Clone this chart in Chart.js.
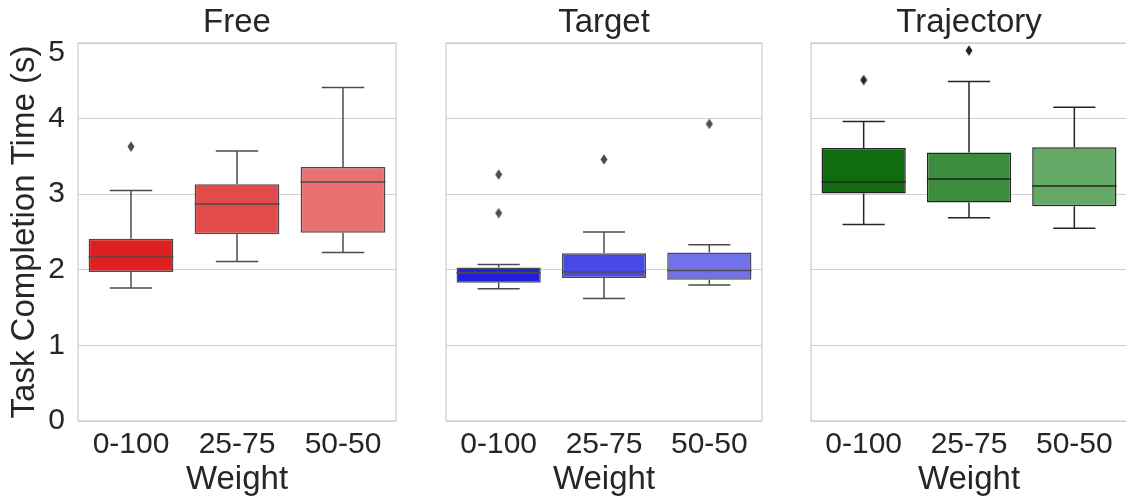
<!DOCTYPE html>
<html>
<head>
<meta charset="utf-8">
<script src="https://cdn.jsdelivr.net/npm/chart.js@4"></script>
<style>
  html, body { margin: 0; padding: 0; background: #fff; overflow: hidden; }
  body { width: 1126px; height: 498px; position: relative; }
  .panel { position: absolute; top: 0; height: 498px; }
</style>
</head>
<body>
<div class="panel" style="left:0px;width:402px"><canvas id="free" width="402" height="498"></canvas></div>
<div class="panel" style="left:440px;width:328px"><canvas id="target" width="328" height="498"></canvas></div>
<div class="panel" style="left:805px;width:328px"><canvas id="trajectory" width="328" height="498"></canvas></div>
<script>
// Dados
const weights = ['0-100', '25-75', '50-50'];
const yTicks = [0, 1, 2, 3, 4, 5];

// Free
const freeLow = [1.76, 2.11, 2.23];
const freeQ1 = [1.97, 2.47, 2.49];
const freeMedian = [2.17, 2.87, 3.16];
const freeQ3 = [2.41, 3.13, 3.36];
const freeHigh = [3.05, 3.57, 4.41];
const freeOutliers = [[3.63], [], []];

// Target
const targetLow = [1.75, 1.62, 1.80];
const targetQ1 = [1.83, 1.89, 1.87];
const targetMedian = [1.96, 1.97, 1.99];
const targetQ3 = [2.03, 2.22, 2.23];
const targetHigh = [2.07, 2.50, 2.33];
const targetOutliers = [[3.26, 2.75], [3.46], [3.93]];

// Trajectory
const trajLow = [2.60, 2.69, 2.55];
const trajQ1 = [3.01, 2.89, 2.84];
const trajMedian = [3.16, 3.20, 3.11];
const trajQ3 = [3.61, 3.55, 3.62];
const trajHigh = [3.96, 4.49, 4.15];
const trajOutliers = [[4.51], [4.90], []];

const FONT = "'Liberation Sans', Arial, sans-serif";
const TEXT = '#262626';
const GRID = '#d0d0d0';

// Losango fino (marcador 'd' do seaborn)
function diamond(color) {
  const c = document.createElement('canvas');
  c.width = 8; c.height = 11;
  const g = c.getContext('2d');
  g.fillStyle = color;
  g.beginPath();
  g.moveTo(4, 0.3); g.lineTo(7.5, 5.5); g.lineTo(4, 10.7); g.lineTo(0.5, 5.5);
  g.closePath();
  g.fill();
  return c;
}

// Bigodes, tampas e mediana desenhados pelas escalas do gráfico
const boxPlugin = {
  id: 'boxParts',
  beforeDatasetsDraw(chart) {
    const { ctx, chartArea: a } = chart;
    ctx.save();
    ctx.strokeStyle = '#cccccc';
    ctx.lineWidth = 1.25;
    ctx.strokeRect(a.left, a.top, a.right - a.left, a.bottom - a.top);
    ctx.restore();
  },
  afterDatasetsDraw(chart) {
    const box = chart.options.plugins.boxParts;
    const { ctx } = chart;
    const x = chart.scales.x, y = chart.scales.y;
    const bars = chart.getDatasetMeta(0).data;
    ctx.save();
    ctx.strokeStyle = box.line;
    ctx.lineWidth = 1.5;
    weights.forEach((w, i) => {
      const cx = x.getPixelForValue(i);
      const half = bars[i].width / 2;
      const cap = half / 2;
      const seg = (x1, y1, x2, y2) => {
        ctx.beginPath(); ctx.moveTo(x1, y1); ctx.lineTo(x2, y2); ctx.stroke();
      };
      seg(cx, y.getPixelForValue(box.q3[i]), cx, y.getPixelForValue(box.high[i]));
      seg(cx, y.getPixelForValue(box.q1[i]), cx, y.getPixelForValue(box.low[i]));
      seg(cx - cap, y.getPixelForValue(box.high[i]), cx + cap, y.getPixelForValue(box.high[i]));
      seg(cx - cap, y.getPixelForValue(box.low[i]), cx + cap, y.getPixelForValue(box.low[i]));
      seg(cx - half, y.getPixelForValue(box.median[i]), cx + half, y.getPixelForValue(box.median[i]));
    });
    ctx.restore();
  }
};

function makePanel(id, title, colors, line, low, q1, median, q3, high, outliers, first) {
  const points = [];
  outliers.forEach((vals, i) => vals.forEach(v => points.push({ x: weights[i], y: v })));

  return new Chart(document.getElementById(id), {
    type: 'bar',
    data: {
      labels: weights,
      datasets: [{
        data: weights.map((w, i) => [q1[i], q3[i]]),
        backgroundColor: colors,
        borderColor: line,
        borderWidth: 1.5,
        borderSkipped: false,
        categoryPercentage: 1,
        barPercentage: 0.8
      }, {
        type: 'line',
        data: points,
        showLine: false,
        pointStyle: diamond(line),
        pointRadius: 5
      }]
    },
    options: {
      responsive: false,
      animation: false,
      devicePixelRatio: 1,
      layout: { padding: first ? { left: 0, right: 2 } : { left: 3, right: 3 } },
      scales: {
        x: {
          type: 'category',
          grid: { display: false },
          border: { display: false },
          ticks: { font: { size: 30, family: FONT }, color: TEXT, padding: -2.5 },
          title: {
            display: true, text: 'Weight', color: TEXT,
            font: { size: 33, family: FONT, lineHeight: 1.1 },
            padding: { top: 0, bottom: 0 }
          },
          afterFit(s) { s.height = 77; }
        },
        // eixo superior só para o título do painel (centrado na área do gráfico)
        top: {
          type: 'category',
          position: 'top',
          grid: { display: false },
          border: { display: false },
          ticks: { display: false },
          title: {
            display: true, text: title, color: TEXT,
            font: { size: 33, family: FONT },
            padding: { top: 3, bottom: 0 }
          },
          afterFit(s) { s.height = 43; }
        },
        y: {
          min: 0, max: 5,
          afterBuildTicks(s) { s.ticks = yTicks.map(v => ({ value: v })); },
          grid: { color: GRID, lineWidth: 1, drawTicks: false },
          border: { display: false },
          ticks: {
            display: first,
            color: TEXT,
            padding: 13,
            font: c => ({ size: 30, family: FONT, lineHeight: c.tick && c.tick.value === 5 ? '20px' : 1.2 }),
            callback: v => v === 5 ? ['', '5'] : String(v)
          },
          title: {
            display: first, text: 'Task Completion Time (s)', color: TEXT,
            font: { size: 33, family: FONT },
            padding: { top: 5, bottom: 0 }
          },
          afterFit(s) { s.width = first ? 78 : 0; }
        }
      },
      plugins: {
        legend: { display: false },
        tooltip: { enabled: false },
        title: { display: false },
        boxParts: { line, low, q1, median, q3, high }
      }
    },
    plugins: [boxPlugin]
  });
}

makePanel('free', 'Free', ['#df2020', '#e34a4a', '#ea7171'], '#4c4c4c',
  freeLow, freeQ1, freeMedian, freeQ3, freeHigh, freeOutliers, true);
makePanel('target', 'Target', ['#2020df', '#4949e5', '#7171ec'], '#4c4c4c',
  targetLow, targetQ1, targetMedian, targetQ3, targetHigh, targetOutliers, false);
makePanel('trajectory', 'Trajectory', ['#0f6d10', '#3b8c3c', '#65a966'], '#252525',
  trajLow, trajQ1, trajMedian, trajQ3, trajHigh, trajOutliers, false);
</script>
</body>
</html>
